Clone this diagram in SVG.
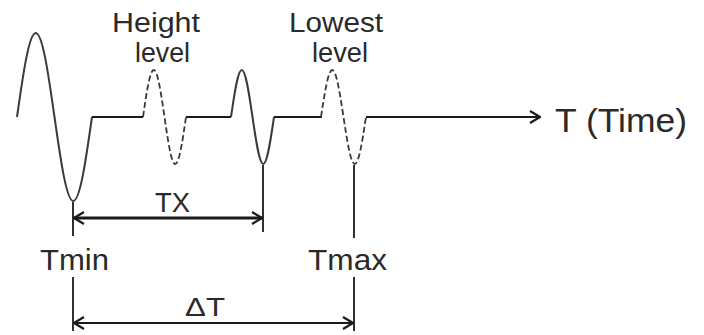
<svg xmlns="http://www.w3.org/2000/svg" width="704" height="335" viewBox="0 0 704 335">
<defs>
<style>
text{font-family:"Liberation Sans",Arial,sans-serif;fill:#2a2a2a;}
.wave{fill:none;stroke:#3a3a3a;stroke-width:2;}
.dash{fill:none;stroke:#3a3a3a;stroke-width:1.8;stroke-dasharray:6 3;}
.base{fill:none;stroke:#1a1a1a;stroke-width:2;}
.tick{fill:none;stroke:#1a1a1a;stroke-width:1.8;}
.dim{fill:none;stroke:#1a1a1a;}
</style>
<marker id="ah" viewBox="0 0 12 14" refX="11" refY="7" markerWidth="12" markerHeight="14" markerUnits="userSpaceOnUse" orient="auto-start-reverse">
<path d="M1,1 L11,7 L1,13" fill="none" stroke="#1a1a1a" stroke-width="2.2"/>
</marker>
</defs>
<g id="signal">
<path class="wave" d="M17,117 C23.11,74 28.97,33 35.75,33 C42.54,33 48.39,74 54.5,117 C60.61,160 66.47,201 73.25,201 C80.04,201 85.89,160 92,117"/>
<path class="base" d="M92,117 L143,117"/>
<path class="dash" d="M143,117 C146.5,92.9 149.86,70 153.75,70 C157.64,70 161,92.9 164.5,117 C168,141.1 171.36,164 175.25,164 C179.14,164 182.5,141.1 186,117"/>
<path class="base" d="M186,117 L231,117"/>
<path class="wave" d="M231,117 C234.5,92.9 237.86,70 241.75,70 C245.64,70 249,92.9 252.5,117 C256,141.1 259.36,164 263.25,164 C267.14,164 270.5,141.1 274,117"/>
<path class="base" d="M274,117 L322,117"/>
<path class="dash" d="M321,117 C324.67,92.9 328.18,70 332.25,70 C336.32,70 339.83,92.9 343.5,117 C347.17,141.1 350.68,164 354.75,164 C358.82,164 362.33,141.1 366,117"/>
<path class="base" d="M366,117 L540,117" marker-end="url(#ah)"/>
</g>
<g id="connectors">
<line class="tick" x1="73" y1="202" x2="73" y2="236"/>
<line class="tick" x1="263" y1="165" x2="263" y2="232"/>
<line class="tick" x1="354" y1="165" x2="354" y2="238"/>
<line class="tick" x1="73" y1="277" x2="73" y2="331"/>
<line class="tick" x1="354" y1="277" x2="354" y2="331"/>
<line class="dim" stroke-width="3" x1="74" y1="218" x2="262" y2="218" marker-start="url(#ah)" marker-end="url(#ah)"/>
<line class="dim" stroke-width="2" x1="74" y1="323" x2="353" y2="323" marker-start="url(#ah)" marker-end="url(#ah)"/>
</g>
<g id="label-height">
<text x="112" y="32" font-size="27" textLength="88" lengthAdjust="spacingAndGlyphs">Height</text>
<text x="135" y="62" font-size="27" textLength="55" lengthAdjust="spacingAndGlyphs">level</text>
</g>
<g id="label-lowest">
<text x="289" y="32" font-size="27" textLength="94" lengthAdjust="spacingAndGlyphs">Lowest</text>
<text x="312" y="62" font-size="27" textLength="56" lengthAdjust="spacingAndGlyphs">level</text>
</g>
<g id="label-time">
<text x="555" y="132" font-size="33" textLength="132" lengthAdjust="spacingAndGlyphs">T (Time)</text>
</g>
<g id="label-tx">
<text x="155" y="212" font-size="28" textLength="35" lengthAdjust="spacingAndGlyphs">TX</text>
</g>
<g id="label-tmin">
<text x="40" y="270" font-size="30" textLength="69" lengthAdjust="spacingAndGlyphs">Tmin</text>
</g>
<g id="label-tmax">
<text x="308" y="270" font-size="30" textLength="79" lengthAdjust="spacingAndGlyphs">Tmax</text>
</g>
<g id="label-dt">
<text x="185" y="316" font-size="25" textLength="40" lengthAdjust="spacingAndGlyphs">ΔT</text>
</g>
</svg>
